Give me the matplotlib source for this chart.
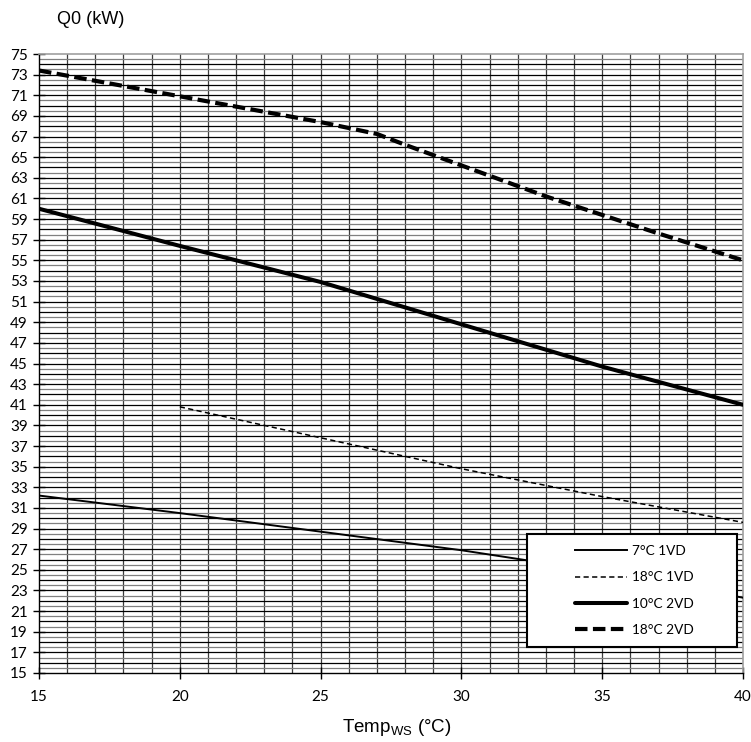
import matplotlib
matplotlib.use("Agg")
import matplotlib.pyplot as plt
from matplotlib.patches import Rectangle
import numpy as np

# ---- data ----
x_7_1vd = [15, 20, 25, 30, 35, 40]
y_7_1vd = [32.2, 30.5, 28.7, 26.9, 24.8, 22.3]

x_18_1vd = [20, 25, 30, 35, 40]
y_18_1vd = [40.8, 37.8, 34.8, 32.1, 29.6]

x_10_2vd = [15, 20, 25, 30, 35, 40]
y_10_2vd = [60.0, 56.4, 52.9, 48.8, 44.7, 41.0]

x_18_2vd = [15, 20, 25, 27, 28, 30, 33, 35, 37, 40]
y_18_2vd = [73.4, 70.9, 68.4, 67.25, 66.2, 64.2, 61.2, 59.4, 57.6, 55.0]

labels = ["7°C 1VD", "18°C 1VD", "10°C 2VD", "18°C 2VD"]
x_ticks = [15, 20, 25, 30, 35, 40]
y_ticks = list(range(15, 76, 2))

tick_font = "Lato"
W, H = 751, 742
fig = plt.figure(figsize=(W / 100, H / 100), dpi=100)
ax = fig.add_axes([39 / W, 1 - 673 / H, (743 - 39) / W, (673 - 54) / H])

ax.set_xlim(15, 40)
ax.set_ylim(15, 75)

# grid lines
for xv in np.arange(16, 40, 1):
    ax.axvline(xv, color="#3c3c3c", lw=0.9, zorder=1)
for yv in np.arange(15.5, 75, 0.5):
    c = "#000000" if (yv * 2) % 2 == 0 else "#808080"
    ax.axhline(yv, color=c, lw=0.9, zorder=1)

ax.plot(x_7_1vd, y_7_1vd, color="black", lw=1.4, zorder=3, label=labels[0])
ax.plot(x_18_1vd, y_18_1vd, color="black", lw=1.1, dashes=(3.4, 2.2), zorder=3, label=labels[1])
ax.plot(x_10_2vd, y_10_2vd, color="black", lw=2.9, solid_capstyle="round", zorder=3, label=labels[2])
ax.plot(x_18_2vd, y_18_2vd, color="black", lw=3.0, dashes=(3.0, 1.3), zorder=3, label=labels[3])

# spines
for s in ["top", "right"]:
    ax.spines[s].set_color("#a0a0a0")
    ax.spines[s].set_linewidth(1.2)
for s in ["left", "bottom"]:
    ax.spines[s].set_color("black")
    ax.spines[s].set_linewidth(1.0)

ax.set_xticks(x_ticks)
ax.set_yticks(y_ticks)
ax.tick_params(axis="both", direction="inout", length=8, width=1.0, color="black",
               labelsize=11)
ax.tick_params(axis="x", pad=8)
ax.tick_params(axis="y", pad=4)
for lab in ax.get_xticklabels() + ax.get_yticklabels():
    lab.set_fontfamily(tick_font)

# axis titles
fig.text(57 / W, 1 - 20 / H, "Q0 (kW)", fontsize=13, family="Liberation Sans",
         ha="left", va="center")
fig.text(397 / W, 1 - 727 / H, r"Temp$_{\mathregular{WS}}$ (°C)", fontsize=13.5,
         family="Liberation Sans", ha="center", va="center")

# legend box
bx0, by0, bx1, by1 = 0.693, 0.042, 0.991, 0.2245
rect = Rectangle((bx0, by0), bx1 - bx0, by1 - by0, transform=ax.transAxes,
                 facecolor="white", edgecolor="black", lw=1.5, zorder=5)
ax.add_patch(rect)
handles, lbls = ax.get_legend_handles_labels()
leg = ax.legend(handles, lbls, loc="center", bbox_to_anchor=(bx0 + 0.004, by0, bx1 - bx0, by1 - by0),
                frameon=False, handlelength=3.8, handletextpad=0.4, labelspacing=1.05,
                prop={"family": tick_font, "size": 9.8})
leg.set_zorder(6)

fig.savefig("out.png", dpi=100)
